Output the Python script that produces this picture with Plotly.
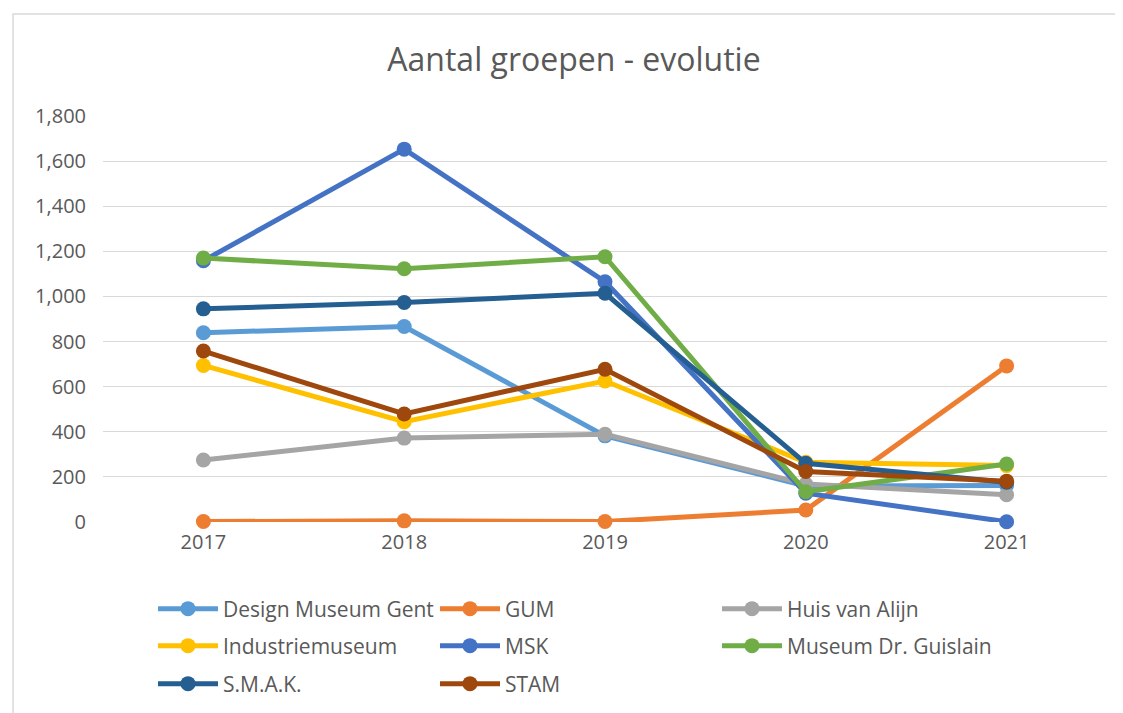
import plotly.graph_objects as go

years = ["2017", "2018", "2019", "2020", "2021"]
series_names = ["Design Museum Gent", "GUM", "Huis van Alijn", "Industriemuseum",
                "MSK", "Museum Dr. Guislain", "S.M.A.K.", "STAM"]
design_museum_gent = [839, 867, 382, 160, 162]
gum = [2, 5, 2, 53, 692]
huis_van_alijn = [275, 372, 389, 168, 121]
industriemuseum = [694, 445, 625, 265, 250]
msk = [1158, 1653, 1065, 128, 1]
guislain = [1170, 1123, 1176, 134, 257]
smak = [945, 973, 1014, 260, 176]
stam = [758, 479, 677, 224, 181]
y_ticks = [0, 200, 400, 600, 800, 1000, 1200, 1400, 1600, 1800]

values = [design_museum_gent, gum, huis_van_alijn, industriemuseum,
          msk, guislain, smak, stam]
colors = ["#5B9BD5", "#ED7D31", "#A5A5A5", "#FFC000",
          "#4472C4", "#70AD47", "#255E91", "#9E480E"]
legend_rows = ["legend", "legend", "legend", "legend2",
               "legend2", "legend2", "legend3", "legend3"]

font_family = "Open Sans, Lato, sans-serif"
text_color = "#595959"

fig = go.Figure()
for name, vals, col, lg in zip(series_names, values, colors, legend_rows):
    fig.add_trace(go.Scatter(
        x=years, y=vals, name=name, mode="lines+markers",
        line=dict(color=col, width=5),
        marker=dict(color=col, size=15),
        legend=lg, cliponaxis=False,
    ))

legend_common = dict(orientation="h", x=0.0498, xanchor="left",
                     yref="container", yanchor="middle",
                     entrywidth=207, entrywidthmode="pixels",
                     font=dict(size=21, color=text_color), itemwidth=60,
                     bgcolor="rgba(0,0,0,0)")

fig.update_layout(
    width=1123, height=713,
    paper_bgcolor="white", plot_bgcolor="white",
    margin=dict(l=95, r=24, t=108, b=199, autoexpand=False),
    font=dict(family=font_family, color=text_color, size=21),
    title=dict(text="Aantal groepen - evolutie", x=0.504, xanchor="center",
               y=0.927, yanchor="middle",
               font=dict(size=32, color=text_color, family=font_family)),
    xaxis=dict(type="category", range=[-0.5, 4.5], showgrid=False,
               showline=False, zeroline=False, ticks="", ticklabelstandoff=6,
               tickfont=dict(size=20, color=text_color)),
    yaxis=dict(range=[0, 1800], tickvals=y_ticks, tickformat=",d",
               showgrid=True, gridcolor="#D9D9D9", gridwidth=1.3,
               zeroline=False, showline=False, ticks="", ticklabelstandoff=16,
               tickfont=dict(size=20, color=text_color)),
    legend=dict(legend_common, y=0.1571),
    legend2=dict(legend_common, y=0.1052),
    legend3=dict(legend_common, y=0.0519),
    showlegend=True,
)

fig.add_shape(type="rect", xref="paper", yref="paper",
              x0=-0.0896, x1=1.2, y0=-0.6, y1=1.251,
              line=dict(color="#D9D9D9", width=1.5), fillcolor="rgba(0,0,0,0)",
              layer="below")

fig.write_html("out.html")
